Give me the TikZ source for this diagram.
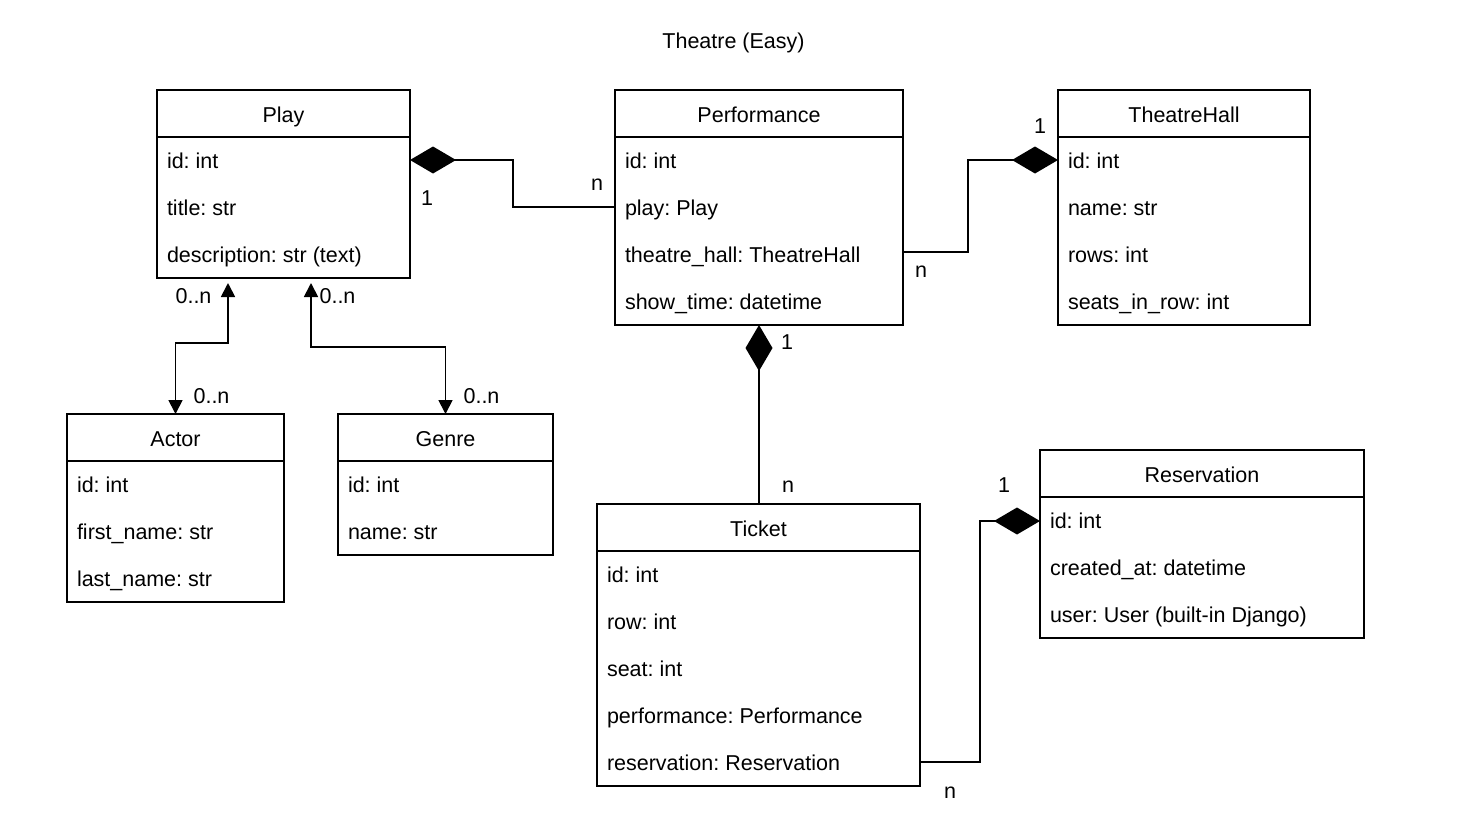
\documentclass[tikz,border=0pt]{standalone}
\usepackage{fontspec}
\setmainfont{Liberation Sans}
\usetikzlibrary{arrows.meta,calc}
\frenchspacing

\tikzset{
  every node/.style={font=\fontsize{21.5}{26}\selectfont, inner sep=0pt, outer sep=0pt},
  classframe/.style={draw, line width=1.8pt, anchor=north west, rectangle},
  headline/.style={line width=1.8pt},
  headtext/.style={anchor=base},
  rowtext/.style={anchor=base west},
  mult/.style={anchor=base},
  conn/.style={line width=1.8pt},
  comp/.style={conn, {Diamond[length=46pt,width=27pt]}-},
  compend/.style={conn, -{Diamond[length=46pt,width=27pt]}},
  nav/.style={conn, {Triangle[length=14pt,width=14pt]}-{Triangle[length=14pt,width=14pt]}},
}

% UML class: #1 name, #2 left, #3 top, #4 width, #5 height, #6 title, #7 attributes
\newcommand\umlclass[7]{%
  \node[classframe, minimum width=#4pt, minimum height=#5pt] (#1) at (#2,#3) {};
  \draw[headline] (#1.north west) ++(0,47) -- ++(#4,0);
  \node[headtext] (#1-name) at ($(#1.north)+(0,32)$) {#6};
  \foreach \attr [count=\k] in {#7}
    \node[rowtext] (#1-\k) at ($(#1.north west)+(10,47*\k+31)$) {\attr};
}

\begin{document}
\begin{tikzpicture}[x=1pt, y=-1pt]
  \fill[white] (0,0) rectangle (1466,827);
  \useasboundingbox (0,0) rectangle (1466,827);

  \node[headtext] (title) at (733.5,48.5) {Theatre (Easy)};

  \umlclass{play}{157}{90}{253}{188}{Play}{id: int, title: str, description: str (text)}
  \umlclass{perf}{615}{90}{288}{235}{Performance}{id: int, play: Play, theatre\_hall: TheatreHall, show\_time: datetime}
  \umlclass{hall}{1058}{90}{252}{235}{TheatreHall}{id: int, name: str, rows: int, seats\_in\_row: int}
  \umlclass{actor}{67}{414}{217}{188}{Actor}{id: int, first\_name: str, last\_name: str}
  \umlclass{genre}{338}{414}{215}{141}{Genre}{id: int, name: str}
  \umlclass{ticket}{597}{504}{323}{282}{Ticket}{id: int, row: int, seat: int, performance: Performance, reservation: Reservation}
  \umlclass{res}{1040}{450}{324}{188}{Reservation}{id: int, created\_at: datetime, user: User (built-in Django)}

  % compositions
  \draw[comp] ($(play.north east)+(0,70)$) -| ($(perf.north west)+(-102,117)$) -- ($(perf.north west)+(0,117)$);
  \draw[compend] ($(perf.north east)+(0,162)$) -| ($(hall.north west)+(-90,70)$) -- ($(hall.north west)+(0,70)$);
  \draw[comp] (perf.south) -- (perf.south |- ticket.north);
  \draw[compend] ($(ticket.north east)+(0,258)$) -| ($(res.north west)+(-60,71)$) -- ($(res.north west)+(0,71)$);

  % many-to-many associations
  \draw[nav] ($(play.south west)+(71,5)$) -- ++(0,60) -| (actor.north);
  \draw[nav] ($(play.south west)+(154,5)$) -- ++(0,64) -| (genre.north);

  % multiplicities
  \node[mult] (m-play-1) at (427,205) {1};
  \node[mult] (m-perf-n) at (597,190) {n};
  \node[mult] (m-hall-1) at (1040,133) {1};
  \node[mult] (m-hall-n) at (921,277) {n};
  \node[mult] (m-tick-1) at (787,349) {1};
  \node[mult] (m-tick-n) at (788,492) {n};
  \node[mult] (m-res-1) at (1004,492) {1};
  \node[mult] (m-res-n) at (950,798) {n};
  \node[mult] (m-act-a) at (193.5,303) {0..n};
  \node[mult] (m-gen-a) at (337.5,303) {0..n};
  \node[mult] (m-act-b) at (211.5,403) {0..n};
  \node[mult] (m-gen-b) at (481.5,403) {0..n};
\end{tikzpicture}
\end{document}
